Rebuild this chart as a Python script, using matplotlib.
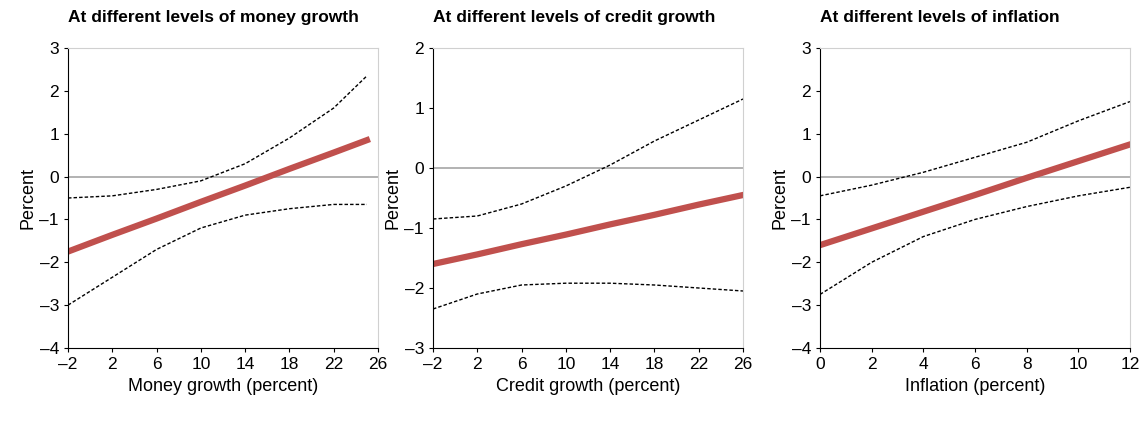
import matplotlib
matplotlib.use("Agg")
import matplotlib.pyplot as plt
import numpy as np
plt.rcParams['font.family'] = ['Liberation Sans', 'DejaVu Sans']

titles = ["At different levels of money growth", "At different levels of credit growth", "At different levels of inflation"]
xlabels = ["Money growth (percent)", "Credit growth (percent)", "Inflation (percent)"]

x1 = [-2, 2, 6, 10, 14, 18, 22, 25]
mid1 = [-1.75, -1.36, -0.98, -0.59, -0.21, 0.18, 0.56, 0.85]
up1 = [-0.5, -0.45, -0.3, -0.1, 0.3, 0.9, 1.6, 2.35]
lo1 = [-3.0, -2.35, -1.7, -1.2, -0.9, -0.75, -0.65, -0.65]

x2 = [-2, 2, 6, 10, 14, 18, 22, 26]
mid2 = [-1.6, -1.44, -1.27, -1.11, -0.94, -0.78, -0.61, -0.45]
up2 = [-0.85, -0.8, -0.6, -0.3, 0.05, 0.45, 0.8, 1.15]
lo2 = [-2.35, -2.1, -1.95, -1.92, -1.92, -1.95, -2.0, -2.05]

x3 = [0, 2, 4, 6, 8, 10, 12]
mid3 = [-1.6, -1.21, -0.82, -0.43, -0.03, 0.36, 0.75]
up3 = [-0.45, -0.2, 0.1, 0.45, 0.8, 1.3, 1.75]
lo3 = [-2.75, -2.0, -1.4, -1.0, -0.7, -0.45, -0.25]

panels = [
    (x1, mid1, up1, lo1, (-2, 26), np.arange(-2, 27, 4), (-4, 3)),
    (x2, mid2, up2, lo2, (-2, 26), np.arange(-2, 27, 4), (-3, 2)),
    (x3, mid3, up3, lo3, (0, 12), np.arange(0, 13, 2), (-4, 3)),
]

fig = plt.figure(figsize=(11.47, 4.21), dpi=100)
lefts = [68/1147, 433/1147, 820/1147]
w = 310/1147
for i, (x, m, u, l, xl, xt, yl) in enumerate(panels):
    ax = fig.add_axes([lefts[i], 73/421, w, 300/421])
    ax.axhline(0, color='#a6a6a6', lw=1.2)
    ax.plot(x, u, 'k--', lw=1, dashes=(2.5, 1.5))
    ax.plot(x, l, 'k--', lw=1, dashes=(2.5, 1.5))
    ax.plot(x, m, color='#c0504d', lw=4.5)
    ax.set_xlim(*xl)
    ax.set_xticks(xt)
    ax.set_xticklabels([str(v).replace('-', '\u2013') for v in xt])
    ax.set_ylim(*yl)
    yt = np.arange(yl[0], yl[1] + 1)
    ax.set_yticks(yt)
    ax.set_yticklabels([str(v).replace('-', '\u2013') for v in yt])
    ax.tick_params(labelsize=12.5, direction='out', length=3)
    ax.set_xlabel(xlabels[i], fontsize=13)
    ax.set_ylabel("Percent", fontsize=13, labelpad=2)
    ax.set_title(titles[i], fontsize=12.5, fontweight='bold', loc='left', x=0.0, pad=19)
    for s in ['top', 'right']:
        ax.spines[s].set_color('#d0d0d0')
fig.savefig("out.png", dpi=100)
